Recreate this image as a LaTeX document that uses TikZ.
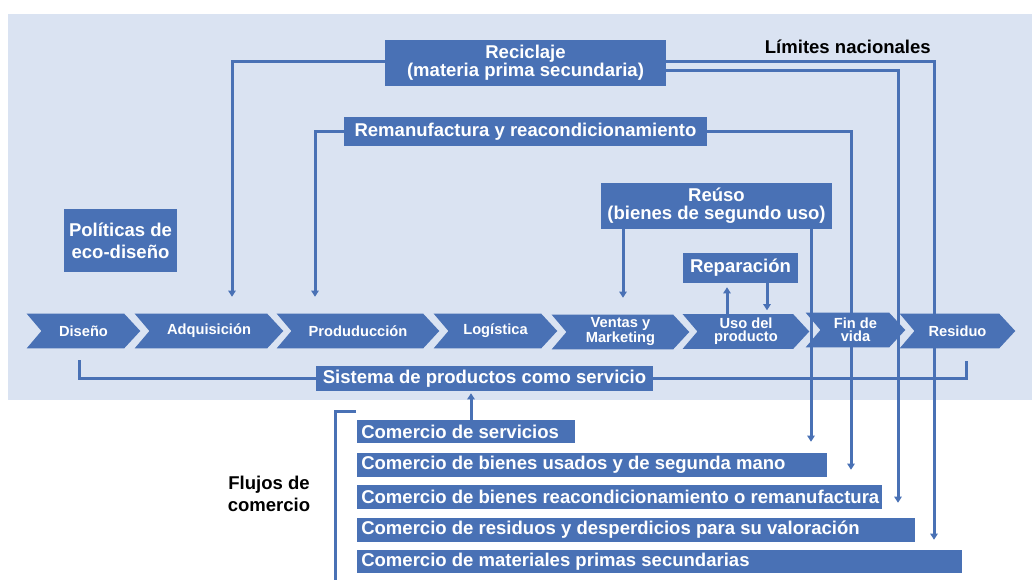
\documentclass[tikz,border=0pt]{standalone}
\usepackage{fontspec}
\setmainfont{Liberation Sans}
\usetikzlibrary{arrows.meta,backgrounds}
\definecolor{cblue}{RGB}{73,113,181}
\definecolor{cbg}{RGB}{218,227,242}
\newcommand\bxfont{\fontsize{13.9}{13.5}\selectfont\bfseries}
\newcommand\plfont{\fontsize{13.9}{16.5}\selectfont\bfseries}
\newcommand\chfont{\fontsize{11}{10}\selectfont\bfseries}
\begin{document}
\begin{tikzpicture}[x=0.75pt,y=-0.75pt,
  box/.style={fill=cblue,text=white,font=\bxfont,inner sep=0pt,align=center},
  combox/.style={fill=cblue,text=white,font=\bxfont,inner xsep=3pt,inner ysep=0pt,anchor=west},
  chev/.style={inner sep=0pt,minimum height=25.5pt,text=white,font=\chfont,align=center},
  chevfill/.style={fill=cblue},
  link/.style={draw=cblue,line width=2.25pt},
  arr/.style={link,-{Triangle[width=5.5pt,length=4.5pt]}},
  lbl/.style={text=black,font=\bxfont,inner sep=0pt}
]
\useasboundingbox (0,0) rectangle (1032,579);

% chevron nodes
\node[chev,minimum width=84.75pt] (dis) at (83.5,331) {Diseño};
\node[chev,minimum width=111pt] (adq) at (209,331) {Adquisición};
\node[chev,minimum width=121.5pt] (pro) at (358,331) {Produducción};
\node[chev,minimum width=92.25pt] (log) at (495.5,331) {Logística};
\node[chev,minimum width=102.75pt] (ven) at (620.5,332) {Ventas y\\Marketing};
\node[chev,minimum width=94.5pt] (uso) at (746,331.5) {Uso del\\producto};
\node[chev,minimum width=74.25pt] (fin) at (855.5,330) {Fin de\\vida};
\node[chev,minimum width=86.25pt] (res) at (957.5,331) {Residuo};

% boxes
\node[box,minimum width=210.75pt,minimum height=34.5pt] (rec) at (525.5,63) {Reciclaje\\(materia prima secundaria)};
\node[box,minimum width=272.25pt,minimum height=21.75pt] (rem) at (525.5,131.5) {Remanufactura y reacondicionamiento};
\node[box,minimum width=173.25pt,minimum height=34.5pt] (reu) at (716.5,206) {Reúso\\(bienes de segundo uso)};
\node[box,minimum width=86.25pt,minimum height=22.5pt] (rep) at (740.5,268) {Reparación};
\node[box,font=\plfont,minimum width=84.75pt,minimum height=47.25pt] (pol) at (120.5,240.5) {Políticas de\\eco-diseño};
\node[box,minimum width=252.75pt,minimum height=18.75pt] (sis) at (484.5,378.5) {Sistema de productos como servicio};

\node[combox,minimum height=17.25pt] (c1) at (357,431.5) {\makebox[157.5pt][l]{Comercio de servicios}};
\node[combox,minimum height=18pt] (c2) at (357,465) {\makebox[346.5pt][l]{Comercio de bienes usados y de segunda mano}};
\node[combox,minimum height=18pt] (c3) at (357,497) {\makebox[387.75pt][l]{Comercio de bienes reacondicionamiento o remanufactura}};
\node[combox,minimum height=18pt] (c4) at (357,530) {\makebox[412.5pt][l]{Comercio de residuos y desperdicios para su valoración}};
\node[combox,minimum height=17.25pt] (c5) at (357,561.5) {\makebox[447.75pt][l]{Comercio de materiales primas secundarias}};

% labels
\node[lbl,anchor=east] (lim) at (931,47) {Límites nacionales};
\node[lbl,font=\plfont,align=center] (flu) at (269,494) {Flujos de\\comercio};
\coordinate (brkend) at (335,581);

\begin{scope}[on background layer]
  \fill[cbg] (8,14) rectangle (1032,400);
  % connectors (under the chevrons)
  \draw[arr] (rec.west |- 0,61) -| ([shift={(23,-17)}]adq.north);
  \draw[arr] (rem.west) -| ([shift={(-43,-17)}]pro.north);
  \draw[arr] (reu.south -| 623,0) -- ([shift={(2.5,-17)}]ven.north);
  \draw[arr] (uso.north -| 727,0) -- ([yshift=-3pt]rep.south -| 727,0);
  \draw[arr] (rep.south -| 767,0) -- ([shift={(21,-4)}]uso.north);
  \draw[link] ([shift={(-4.5,12)}]dis.south) |- (sis.west);
  \draw[link] (sis.east) -| ([shift={(8.5,13)}]res.south);
  \draw[arr] (c1.north -| 471,0) -- ([yshift=-1.5pt]sis.south -| 471,0);
  \draw[link] ([xshift=-0.75pt]c1.north west |- 0,411) -| (brkend);
  \draw[arr] (rec.east |- 0,61) -| ([shift={(577,-10)}]c5.north west);
  \draw[arr] (rec.east |- 0,70) -| ([shift={(541,-15)}]c4.north west);
  \draw[arr] (rem.east) -| ([shift={(494,-15)}]c3.north west);
  \draw[arr] (reu.south -| 811,0) -- ([shift={(454,-11)}]c2.north west);
  % chevron shapes
  \foreach \n in {dis,adq,pro,log,ven,uso,fin,res}
    \fill[chevfill] (\n.north west) -- ([xshift=-12pt]\n.north east) -- (\n.east)
      -- ([xshift=-12pt]\n.south east) -- (\n.south west) -- ([xshift=11pt]\n.west) -- cycle;
\end{scope}
\end{tikzpicture}
\end{document}
